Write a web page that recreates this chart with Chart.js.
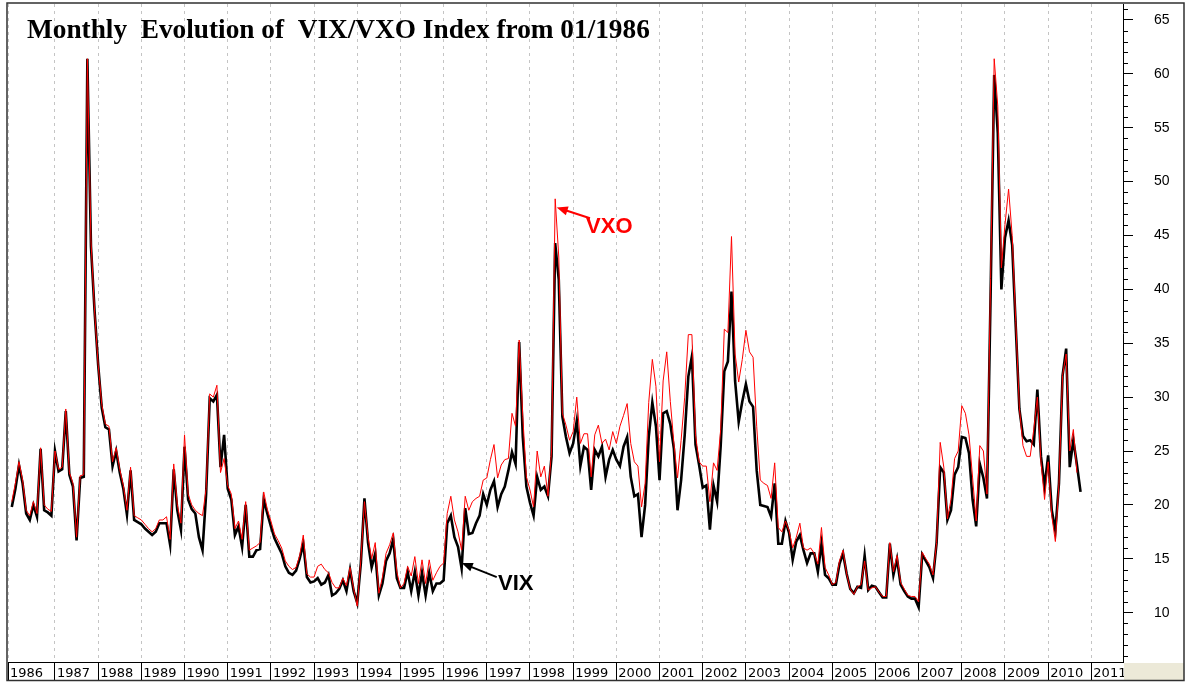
<!DOCTYPE html>
<html>
<head>
<meta charset="utf-8">
<script src="https://cdn.jsdelivr.net/npm/chart.js@4/dist/chart.umd.min.js"></script>
<style>
  html, body { margin: 0; padding: 0; background: #fff; }
  #wrap { width: 1187px; height: 682px; }
</style>
</head>
<body>
<div id="wrap"><canvas id="chart" width="1187" height="682"></canvas></div>
<script>
// Monthly closes, first value = January 1986
const startYear = 1986;

const vix = [
  19.8, 21.5, 23.7, 22.0, 19.2, 18.6, 20.0, 18.9, 25.2, 19.5, 19.3, 19.0, // 1986
  25.0, 23.1, 23.3, 28.7, 22.8, 21.7, 16.7, 22.5, 22.6, 61.4, 44.0, 38.0, // 1987
  33.0, 29.0, 27.2, 27.0, 23.6, 25.0, 23.0, 21.5, 19.1, 23.2, 18.6, 18.4, // 1988
  18.2, 17.8, 17.5, 17.2, 17.5, 18.3, 18.3, 18.3, 16.3, 23.3, 19.5, 17.7, // 1989
  25.4, 20.5, 19.6, 19.2, 17.0, 15.8, 21.0, 29.9, 29.6, 30.2, 23.5, 26.5, // 1990
  21.5, 20.5, 17.2, 18.0, 16.1, 20.0, 15.2, 15.2, 15.8, 15.9, 20.5, 19.2, // 1991
  18.0, 16.9, 16.2, 15.5, 14.3, 13.7, 13.5, 13.9, 15.0, 16.4, 13.3, 12.8, // 1992
  12.9, 13.2, 12.6, 12.8, 13.5, 11.6, 11.8, 12.2, 13.0, 12.0, 14.0, 12.0, // 1993
  10.9, 14.6, 20.6, 16.5, 14.2, 15.5, 11.6, 12.7, 14.8, 15.5, 16.8, 13.2, // 1994
  12.3, 12.3, 13.8, 12.0, 13.8, 11.6, 13.7, 11.6, 13.7, 12.0, 12.7, 12.7, // 1995
  13.0, 18.3, 19.0, 17.0, 16.1, 14.1, 19.7, 17.3, 17.4, 18.3, 19.0, 21.0, // 1996
  20.0, 21.4, 22.2, 19.8, 21.0, 21.7, 23.2, 24.9, 23.8, 35.1, 26.3, 21.7, // 1997
  20.2, 19.0, 22.6, 21.4, 21.7, 20.8, 24.5, 44.3, 40.9, 28.2, 26.3, 24.8, // 1998
  25.7, 27.8, 23.6, 25.4, 25.1, 21.4, 25.1, 24.5, 25.4, 22.6, 24.2, 25.1, // 1999
  24.2, 23.6, 25.4, 26.3, 22.6, 20.8, 21.0, 17.0, 20.0, 26.3, 29.5, 27.3, // 2000
  22.3, 28.5, 28.7, 27.5, 25.2, 19.5, 22.3, 26.5, 31.9, 33.8, 25.6, 23.7, // 2001
  21.6, 21.8, 17.7, 21.8, 20.3, 25.5, 32.4, 33.3, 39.8, 31.5, 27.7, 29.6, // 2002
  31.2, 29.6, 29.1, 23.2, 20.0, 19.9, 19.8, 18.9, 22.0, 16.4, 16.4, 18.5, // 2003
  17.4, 14.9, 16.6, 17.2, 15.8, 14.6, 15.5, 15.5, 13.8, 16.4, 13.5, 13.2, // 2004
  12.6, 12.6, 14.5, 15.5, 13.6, 12.2, 11.8, 12.4, 12.3, 15.3, 12.1, 12.5, // 2005
  12.4, 11.9, 11.4, 11.4, 16.4, 13.5, 15.0, 12.6, 12.0, 11.5, 11.3, 11.3, // 2006
  10.5, 15.4, 14.8, 14.2, 13.2, 16.5, 23.5, 23.0, 18.6, 19.5, 22.8, 23.5, // 2007
  26.3, 26.2, 24.8, 20.5, 18.0, 23.8, 22.5, 20.6, 39.4, 59.9, 54.5, 40.0, // 2008
  44.8, 46.4, 44.1, 36.5, 28.9, 26.4, 25.9, 26.0, 25.6, 30.7, 24.5, 21.7, // 2009
  24.6, 19.5, 17.6, 22.0, 32.0, 34.5, 23.5, 26.0, 23.7, 21.2              // 2010
];

const vxo = [
  20.3, 22.0, 24.0, 22.3, 19.5, 19.0, 20.3, 19.2, 25.3, 20.0, 19.6, 19.4, // 1986
  25.0, 23.3, 23.5, 28.9, 23.0, 22.0, 17.0, 22.7, 22.8, 61.4, 44.5, 38.0, // 1987
  33.0, 29.3, 27.5, 27.3, 24.0, 25.3, 23.3, 21.8, 19.5, 23.5, 19.0, 18.8, // 1988
  18.6, 18.2, 17.8, 17.5, 17.8, 18.6, 18.6, 18.9, 16.8, 23.8, 20.0, 18.3, // 1989
  26.5, 21.0, 20.0, 19.5, 19.2, 19.0, 21.5, 30.3, 30.0, 31.1, 23.0, 24.3, // 1990
  21.8, 21.0, 17.8, 18.5, 16.8, 20.3, 15.8, 16.0, 16.2, 16.5, 21.2, 19.6, // 1991
  18.5, 17.3, 16.7, 16.0, 14.8, 14.3, 14.0, 14.2, 15.3, 17.2, 13.6, 13.3, // 1992
  13.3, 14.3, 14.5, 14.0, 13.7, 12.8, 12.3, 12.3, 13.2, 12.5, 14.2, 12.2, // 1993
  10.6, 14.9, 20.3, 17.0, 15.0, 16.5, 11.8, 13.3, 15.5, 16.3, 17.4, 13.8, // 1994
  12.3, 12.7, 14.3, 13.4, 15.2, 12.7, 14.9, 12.7, 14.9, 13.0, 13.7, 14.3, // 1995
  14.6, 19.2, 20.8, 18.6, 17.5, 15.8, 20.8, 19.5, 20.3, 20.6, 20.8, 22.3, // 1996
  22.5, 24.2, 25.6, 22.5, 23.7, 24.2, 24.3, 28.5, 27.3, 35.3, 28.2, 22.6, // 1997
  21.4, 19.8, 25.0, 22.6, 23.6, 20.8, 25.0, 48.4, 43.0, 28.5, 27.4, 26.0, // 1998
  26.8, 30.0, 25.7, 26.6, 26.6, 22.6, 26.5, 27.4, 25.7, 26.1, 25.1, 26.8, // 1999
  25.7, 27.3, 28.3, 29.4, 25.7, 24.0, 23.6, 19.8, 22.0, 29.5, 33.5, 31.0, // 2000
  24.0, 31.5, 34.2, 29.6, 25.7, 22.5, 26.0, 30.0, 35.8, 35.8, 26.5, 24.0, // 2001
  23.6, 23.6, 20.3, 23.9, 23.2, 27.0, 36.3, 36.0, 44.9, 34.0, 31.4, 33.5, // 2002
  36.2, 34.2, 33.7, 27.3, 22.3, 22.0, 21.8, 20.6, 23.9, 17.9, 17.5, 18.5, // 2003
  17.6, 16.0, 17.0, 18.3, 16.0, 15.8, 16.0, 15.5, 14.5, 17.9, 14.2, 13.5, // 2004
  12.6, 12.8, 14.8, 15.8, 13.6, 12.2, 11.7, 12.4, 12.6, 14.8, 12.1, 12.3, // 2005
  12.4, 11.9, 11.5, 11.5, 16.5, 13.8, 15.3, 12.8, 12.2, 11.6, 11.5, 11.5, // 2006
  11.0, 15.6, 15.0, 14.5, 13.5, 16.5, 25.8, 23.5, 18.7, 20.5, 24.3, 25.0, // 2007
  29.2, 28.5, 26.5, 22.5, 18.5, 25.5, 25.0, 21.0, 41.0, 61.4, 57.0, 42.0, // 2008
  46.0, 49.3, 45.0, 37.0, 29.0, 25.5, 24.5, 24.5, 27.0, 30.0, 24.0, 20.5, // 2009
  24.0, 19.0, 16.6, 22.0, 32.0, 34.0, 25.0, 27.0, 23.0                    // 2010
];

// year boxes on the bottom axis (first box starts at the left edge)
const yearTicks = [1987, 1988, 1989, 1990, 1991, 1992, 1993, 1994, 1995, 1996, 1997, 1998,
  1999, 2000, 2001, 2002, 2003, 2004, 2005, 2006, 2007, 2008, 2009, 2010, 2011];
const valueTicks = [10, 15, 20, 25, 30, 35, 40, 45, 50, 55, 60, 65];

const X_MIN = 1985.912, X_MAX = 2011.733;
const Y_MIN = 5.42, Y_MAX = 66.48;

const toPoints = arr => arr.map((v, i) => ({ x: startYear + i / 12, y: v }));

// arrow notes, in data coordinates (year, value)
const notes = [
  { text: 'VXO', color: '#ff0000', tip: [1998.62, 47.6], tail: [1999.39, 46.6], at: [1999.30, 45.2] },
  { text: 'VIX', color: '#000000', tip: [1996.42, 14.6], tail: [1997.23, 13.3], at: [1997.26, 12.1] }
];

const decor = {
  id: 'decor',
  beforeDraw(chart) {
    const ctx = chart.ctx;
    ctx.save();
    ctx.fillStyle = '#ffffff';
    ctx.fillRect(0, 0, chart.width, chart.height);
    ctx.restore();
  },
  afterDatasetsDraw(chart) {
    const { ctx, scales: { x, y } } = chart;
    ctx.save();
    // title
    ctx.fillStyle = '#000';
    ctx.font = 'bold 27.3px "Liberation Serif", "Times New Roman", serif';
    ctx.textBaseline = 'alphabetic';
    ctx.textAlign = 'left';
    ctx.fillText('Monthly  Evolution of  VIX/VXO Index from 01/1986', 27, 38);

    // arrows + labels
    notes.forEach(n => {
      const tx = x.getPixelForValue(n.tip[0]), ty = y.getPixelForValue(n.tip[1]);
      const sx = x.getPixelForValue(n.tail[0]), sy = y.getPixelForValue(n.tail[1]);
      const ang = Math.atan2(ty - sy, tx - sx);
      ctx.strokeStyle = n.color;
      ctx.fillStyle = n.color;
      ctx.lineWidth = 2;
      ctx.beginPath();
      ctx.moveTo(sx, sy);
      ctx.lineTo(tx - 6 * Math.cos(ang), ty - 6 * Math.sin(ang));
      ctx.stroke();
      ctx.beginPath();
      ctx.moveTo(tx, ty);
      ctx.lineTo(tx - 11 * Math.cos(ang) + 4.5 * Math.sin(ang), ty - 11 * Math.sin(ang) - 4.5 * Math.cos(ang));
      ctx.lineTo(tx - 11 * Math.cos(ang) - 4.5 * Math.sin(ang), ty - 11 * Math.sin(ang) + 4.5 * Math.cos(ang));
      ctx.closePath();
      ctx.fill();
      ctx.font = 'bold 22px "Liberation Sans", Arial, sans-serif';
      ctx.fillText(n.text, x.getPixelForValue(n.at[0]), y.getPixelForValue(n.at[1]));
    });
    ctx.restore();
  },
  afterDraw(chart) {
    const { ctx, chartArea, scales: { y } } = chart;
    ctx.save();
    // minor ticks on the value axis
    ctx.strokeStyle = '#000';
    ctx.lineWidth = 1;
    ctx.beginPath();
    for (let v = 6; v <= 66; v++) {
      if (v % 5 === 0) continue;
      const py = Math.round(y.getPixelForValue(v)) + 0.5;
      ctx.moveTo(chartArea.right, py);
      ctx.lineTo(chartArea.right + 5, py);
    }
    ctx.stroke();
    // empty corner of the year strip
    ctx.fillStyle = '#ece9d8';
    ctx.fillRect(chartArea.right + 1, chartArea.bottom + 1, 1184 - chartArea.right - 1, 680 - chartArea.bottom - 1);
    // outer frame
    ctx.strokeStyle = '#303030';
    ctx.lineWidth = 1.5;
    ctx.strokeRect(7, 3, 1177, 677.5);
    ctx.restore();
  }
};

new Chart(document.getElementById('chart'), {
  type: 'line',
  data: {
    datasets: [
      {
        label: 'VXO',
        data: toPoints(vxo),
        borderColor: '#ff0000',
        borderWidth: 1,
        pointRadius: 0,
        tension: 0,
        order: 0
      },
      {
        label: 'VIX',
        data: toPoints(vix),
        borderColor: '#000000',
        borderWidth: 2.6,
        pointRadius: 0,
        tension: 0,
        order: 1
      }
    ]
  },
  options: {
    responsive: false,
    animation: false,
    events: [],
    layout: { padding: { top: 4, left: 8, right: 0, bottom: 0 } },
    plugins: {
      legend: { display: false },
      tooltip: { enabled: false },
      title: { display: false }
    },
    scales: {
      x: {
        type: 'linear',
        position: 'bottom',
        min: X_MIN,
        max: X_MAX,
        afterBuildTicks: s => { s.ticks = [X_MIN].concat(yearTicks).map(v => ({ value: v })); },
        afterFit: s => { s.height = 20; s.paddingLeft = 0; s.paddingRight = 0; },
        grid: {
          color: '#c4c4c4',
          lineWidth: 1,
          drawTicks: true,
          tickLength: 18,
          tickColor: '#000',
          tickWidth: 1
        },
        border: { display: true, color: '#000', width: 1, dash: [3, 4] },
        ticks: {
          autoSkip: false,
          maxRotation: 0,
          minRotation: 0,
          align: 'start',
          labelOffset: 2,
          padding: -14,
          color: '#000',
          font: { family: 'DejaVu Sans', size: 13 },
          callback: v => (v < 1986.5 ? '1986' : String(v))
        }
      },
      y: {
        type: 'linear',
        position: 'right',
        min: Y_MIN,
        max: Y_MAX,
        afterBuildTicks: s => { s.ticks = valueTicks.map(v => ({ value: v })); },
        afterFit: s => { s.width = 64; s.paddingTop = 0; s.paddingBottom = 0; },
        grid: {
          drawOnChartArea: false,
          drawTicks: true,
          tickLength: 10,
          tickColor: '#000'
        },
        border: { display: true, color: '#000', width: 1 },
        ticks: {
          padding: 21,
          color: '#000',
          font: { family: 'Liberation Sans', size: 14 }
        }
      }
    }
  },
  plugins: [decor]
});
</script>
</body>
</html>
